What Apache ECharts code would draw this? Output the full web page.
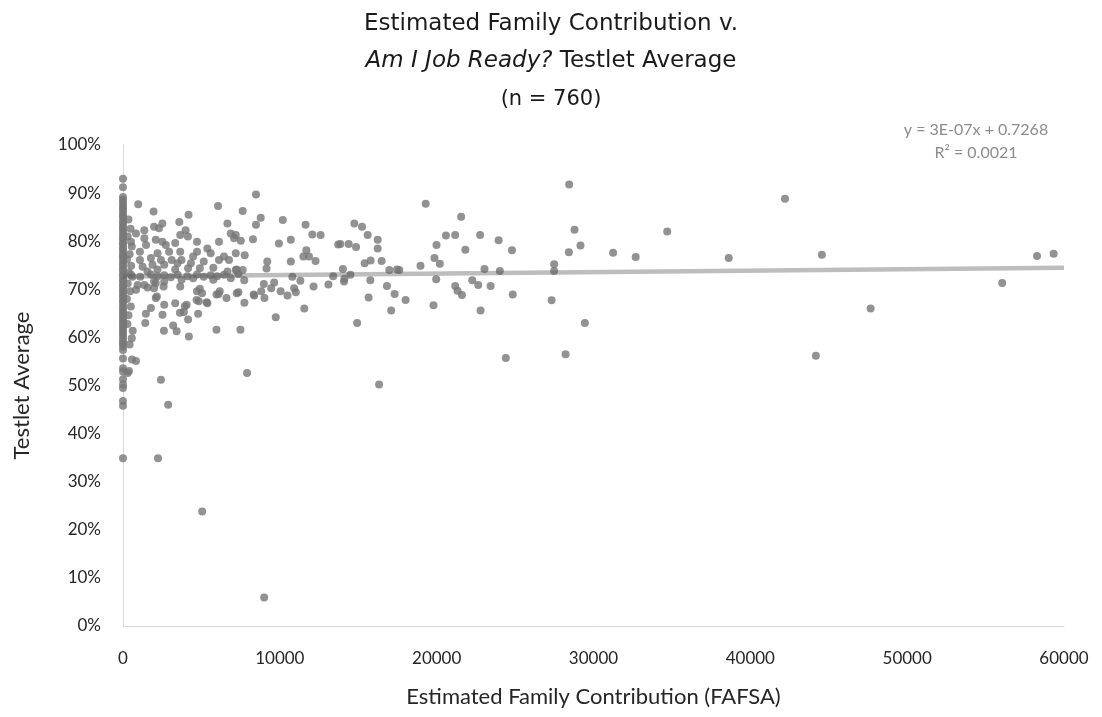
<!DOCTYPE html>
<html>
<head>
<meta charset="utf-8">
<script src="https://cdn.jsdelivr.net/npm/echarts@6/dist/echarts.min.js"></script>
<style>
  html, body { margin: 0; padding: 0; background: #ffffff; }
  #chart { width: 1102px; height: 717px; }
</style>
</head>
<body>
<div id="chart"></div>
<script>
// Students with an Estimated Family Contribution of exactly 0 (testlet average, %)
const zeroEfcScores = [
  93.0, 91.2, 89.2, 88.6, 88.1, 87.4, 86.9, 86.5, 85.8, 85.3, 84.9, 84.1, 83.7, 83.0, 82.6,
  82.1, 81.5, 80.8, 80.4, 79.7, 79.3, 78.6, 78.2, 77.5, 77.1, 76.6, 76.0, 75.3, 74.9, 74.2,
  73.8, 73.1, 72.7, 72.0, 71.6, 70.9, 70.5, 69.8, 69.4, 68.7, 68.3, 67.6, 67.2, 66.5, 66.0,
  65.4, 64.9, 64.3, 63.8, 63.2, 62.7, 62.1, 61.6, 61.0, 60.5, 59.8, 59.2, 58.7, 58.1, 57.4,
  55.6, 53.6, 52.9, 51.3, 50.2, 49.5, 46.8, 45.8, 34.9
];

// Students with a positive Estimated Family Contribution (FAFSA, dollars)
const efcValues = [
  // small contributions next to the zero column
  350, 480, 300, 560, 420, 250, 520, 380, 600, 300, 450, 250, 500, 350, 280, 420, 300, 570, 830, 380,
  // 0 - 7,500
  970, 1950, 6060, 4180, 3590, 2510, 1980, 2300, 1360, 6660, 3990, 3650, 4140, 4720, 3330, 2510, 2730, 2090, 1360, 830,
  510, 1470, 6870, 7080, 6120, 5380, 5590, 4720, 3650, 2940, 2200, 1080, 4470, 3730, 3100, 2420, 1780, 1080, 6440, 6760,
  6120, 5150, 4330, 3480, 2630, 1880, 1250, 5760, 4900, 4150, 3330, 2200, 1560, 7250, 6660,
  510, 1780, 2630, 3480, 4720, 5590, 6440, 1100, 2200, 3050, 4100, 5150, 6000,
  1980, 2630, 3730, 4470, 5760, 6870,
  830, 1360, 1980, 2090, 3650, 4720, 5040, 5960, 6170, 6600, 7250, 4830, 5380, 4060, 3330, 2630, 2090, 1780, 1460, 2520,
  3880, 4150, 4790, 1420, 3200, 3420, 2610, 4200, 5960, 620, 560, 2420,
  930, 1570, 2590, 2160, 4900, 4690, 5330, 6100, 3940, 3630,
  2880, 2230, 5050, 9000,
  // 7,500 - 14,500
  8480, 7630, 8780, 8480, 10190, 11640, 12070, 12600, 7190, 7510, 8290, 9940, 10700, 7760, 7190, 11690, 11860, 12280, 11500, 13720,
  9200, 9150, 10700, 7190, 7630, 7360, 7730, 8980, 9640, 10800, 11310, 12150, 13100, 13400,
  9450, 8810, 8370, 9020, 10050, 10490, 10910, 11020, 14090, 7360, 7740, 11560, 9740, 7490, 7910, 8330,
  // 14,000 - 30,000
  28450, 19300, 21560, 14750, 15240, 15600, 16240, 16240, 13860, 14390, 14860, 28790, 28430, 29170, 20590, 21180, 22770, 19990, 21830, 23950,
  24800, 19860, 20200, 18970, 15410, 15790, 16490, 14020, 14500, 14120, 16980, 17470, 17620, 23050, 24030, 27490, 27490, 15770, 19970, 16830,
  21180, 21330, 21610, 22270, 22650, 23440, 17320, 18020, 15660, 17100, 19800, 22800, 24850, 27330, 14930, 29450, 24410, 28220, 16330,
  // above 30,000
  31250, 32690, 34700, 38620, 42210, 44560, 44180, 47670, 56060, 58280, 59340
];

const testletScores = [
  84.5, 82.6, 81.0, 78.9, 77.3, 76.2, 74.9, 73.5, 72.6, 71.2, 69.6, 68.0, 66.4, 64.6, 62.8, 58.5, 52.6, 55.4, 55.1, 53.0,
  87.7, 86.2, 87.3, 85.5, 84.0, 83.7, 83.0, 82.7, 82.3, 83.7, 82.3, 81.3, 81.0, 79.9, 79.6, 79.9, 79.2, 80.3, 80.6, 81.6,
  79.9, 79.2, 81.6, 80.6, 79.9, 78.5, 77.5, 77.8, 77.8, 77.8, 77.5, 77.8, 76.8, 76.1, 76.1, 76.1, 76.5, 76.1, 76.8, 76.1,
  76.1, 75.8, 75.4, 75.4, 75.1, 75.1, 74.7, 74.5, 74.4, 74.4, 74.1, 74.1, 73.7, 74.1, 73.7,
  73.0, 73.1, 72.9, 73.0, 73.1, 72.9, 73.0, 72.6, 72.7, 72.5, 72.7, 72.6, 72.7,
  71.6, 71.6, 72.0, 72.3, 72.0, 72.3,
  69.9, 70.9, 70.2, 71.3, 70.6, 69.6, 69.2, 68.9, 69.6, 68.2, 69.2, 67.5, 67.1, 66.8, 67.1, 66.8, 68.2, 66.1, 64.9, 64.7,
  65.3, 63.7, 64.9, 63.0, 62.5, 61.3, 61.4, 60.2, 61.6, 61.4, 59.8, 51.2,
  70.9, 70.4, 70.6, 68.5, 70.1, 67.8, 67.3, 69.0, 66.5, 65.1,
  46.0, 34.9, 23.8, 5.9,
  89.7, 86.3, 84.9, 83.4, 84.4, 83.4, 81.4, 81.3, 81.3, 80.1, 80.4, 79.5, 80.3, 77.1, 77.5, 78.1, 76.8, 75.9, 76.8, 79.3,
  75.8, 74.3, 75.8, 74.0, 74.0, 73.2, 71.9, 71.1, 71.4, 72.6, 71.8, 70.6, 71.0, 72.7,
  70.2, 69.6, 68.7, 68.2, 69.6, 68.7, 70.2, 69.4, 71.6, 69.4, 67.2, 66.0, 64.2, 61.6, 52.6, 68.9,
  91.8, 87.8, 85.1, 83.7, 83.0, 81.3, 80.3, 78.5, 79.4, 79.4, 78.8, 82.4, 77.7, 79.1, 81.2, 81.3, 81.3, 79.2, 78.2, 80.2,
  78.1, 76.5, 75.3, 74.9, 75.4, 76.0, 75.9, 74.2, 73.0, 72.2, 74.0, 74.1, 74.0, 74.2, 73.8, 75.2, 73.8, 71.9, 72.1, 70.7,
  70.7, 69.7, 68.8, 71.9, 70.9, 70.7, 69.0, 67.8, 68.3, 65.6, 66.7, 65.6, 68.9, 67.7, 63.0, 63.0, 55.7, 56.5, 50.2,
  77.6, 76.7, 82.0, 76.5, 88.8, 77.2, 56.2, 66.0, 71.3, 76.9, 77.4
];

// Linear trend reported for the data: y = 3E-07x + 0.7268, R² = 0.0021
const trendSlope = 3e-7;
const trendIntercept = 0.7268;
const trendLabel = 'y = 3E-07x + 0.7268';
const rSquaredLabel = 'R² = 0.0021';

const xRange = [0, 60000];
const xStep = 10000;
const yRange = [0, 1];
const yStep = 0.1;

const points = zeroEfcScores.map(s => [0, s / 100])
  .concat(efcValues.map((x, i) => [x, testletScores[i] / 100]));
const trendPoints = xRange.map(x => [x, trendIntercept + trendSlope * x]);

const labelFont = 'Lato, "Liberation Sans", sans-serif';
const titleFont = '"DejaVu Sans", "Open Sans", sans-serif';

const chart = echarts.init(document.getElementById('chart'), null, { renderer: 'canvas' });
chart.setOption({
  backgroundColor: '#ffffff',
  animation: false,
  title: [
    {
      text: 'Estimated Family Contribution v.',
      left: 'center', top: 8,
      textStyle: { fontFamily: titleFont, fontSize: 23, fontWeight: 'normal', color: '#1a1a1a' }
    },
    {
      text: '{i|Am I Job Ready?} Testlet Average',
      left: 'center', top: 45,
      textStyle: {
        fontFamily: titleFont, fontSize: 23, fontWeight: 'normal', color: '#1a1a1a',
        rich: { i: { fontFamily: titleFont, fontSize: 23, fontStyle: 'italic', color: '#1a1a1a' } }
      }
    },
    {
      text: '(n = 760)',
      left: 'center', top: 84,
      textStyle: { fontFamily: titleFont, fontSize: 21, fontWeight: 'normal', color: '#1a1a1a' }
    }
  ],
  grid: { left: 123, right: 38, top: 145, bottom: 91, containLabel: false },
  xAxis: {
    type: 'value',
    min: xRange[0], max: xRange[1], interval: xStep,
    name: 'Estimated Family Contribution (FAFSA)',
    nameLocation: 'middle', nameGap: 60,
    nameTextStyle: { fontFamily: labelFont, fontSize: 22, color: '#262626' },
    axisLine: { show: true, lineStyle: { color: '#d9d9d9', width: 1 } },
    axisTick: { show: false },
    splitLine: { show: false },
    axisLabel: {
      margin: 24, fontFamily: labelFont, fontSize: 17, color: '#262626',
      formatter: v => String(v)
    }
  },
  yAxis: {
    type: 'value',
    min: yRange[0], max: yRange[1], interval: yStep,
    name: 'Testlet Average',
    nameLocation: 'middle', nameGap: 90, nameRotate: 90,
    nameTextStyle: { fontFamily: labelFont, fontSize: 22, color: '#262626' },
    axisLine: { show: true, lineStyle: { color: '#d9d9d9', width: 1 } },
    axisTick: { show: false },
    splitLine: { show: false },
    axisLabel: {
      margin: 22, fontFamily: labelFont, fontSize: 17, color: '#262626',
      formatter: v => Math.round(v * 100) + '%'
    }
  },
  series: [
    {
      type: 'scatter',
      data: points,
      symbol: 'circle',
      symbolSize: 8,
      itemStyle: { color: '#777777' },
      z: 2
    },
    {
      type: 'line',
      data: trendPoints,
      showSymbol: false,
      lineStyle: { color: 'rgba(90,90,90,0.4)', width: 4.5 },
      z: 3,
      silent: true
    }
  ],
  graphic: [
    {
      type: 'text', x: 976, y: 122,
      style: { text: trendLabel, fontFamily: labelFont, fontSize: 16, fill: '#8c8c8c', align: 'center' }
    },
    {
      type: 'text', x: 976, y: 145,
      style: { text: rSquaredLabel, fontFamily: labelFont, fontSize: 16, fill: '#8c8c8c', align: 'center' }
    }
  ]
});
</script>
</body>
</html>
